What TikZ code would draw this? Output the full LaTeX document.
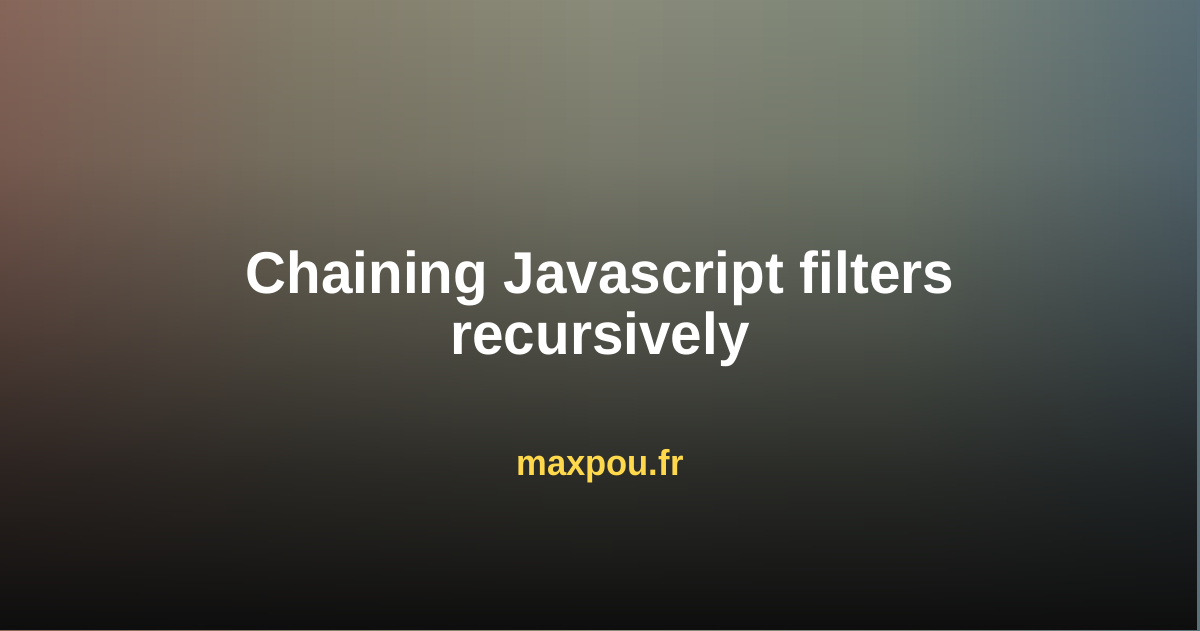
\documentclass[tikz,border=0pt]{standalone}
\usepackage{fontspec}
\setmainfont{Liberation Sans}[FakeStretch=0.96]
\usetikzlibrary{fadings}
\definecolor{c0}{HTML}{87665A}
\definecolor{c1}{HTML}{857E6C}
\definecolor{c2}{HTML}{8A8B7A}
\definecolor{c3}{HTML}{7E8779}
\definecolor{c4}{HTML}{5B6F78}
\definecolor{bot}{HTML}{0E0E0E}
\definecolor{site}{HTML}{FFD84C}
\pgfdeclarehorizontalshading{topband}{100bp}{color(0bp)=(c0); color(25bp)=(c0); color(37.5bp)=(c1); color(50bp)=(c2); color(62.5bp)=(c3); color(75bp)=(c4); color(100bp)=(c4)}
\pgfdeclareverticalshading{darkfadesh}{100bp}{color(0bp)=(white); color(25bp)=(white); color(37.5bp)=(white!76!black); color(50bp)=(white!44!black); color(62.5bp)=(white!14!black); color(75bp)=(black); color(100bp)=(black)}
\pgfdeclarefading{darken}{\pgfuseshading{darkfadesh}}
\tikzset{
  title/.style={text=white, font=\bfseries\fontsize{59}{61}\selectfont, anchor=base, inner sep=0pt},
  sitelabel/.style={text=site, font=\bfseries\fontsize{36}{40}\selectfont, anchor=base, inner sep=0pt}
}
\begin{document}
\begin{tikzpicture}[x=1pt,y=-1pt]
\useasboundingbox (0,0) rectangle (1200,630);
\shade[shading=topband] (0,0) rectangle (1200,630);
\fill[bot, path fading=darken, fit fading=true] (0,0) rectangle (1200,630);
\node[title] (l1) at (600,293) {Chaining Javascript filters};
\node[title] (l2) at (600,354) {recursively};
\node[sitelabel] (site) at (600,475) {maxpou.fr};
\end{tikzpicture}
\end{document}
